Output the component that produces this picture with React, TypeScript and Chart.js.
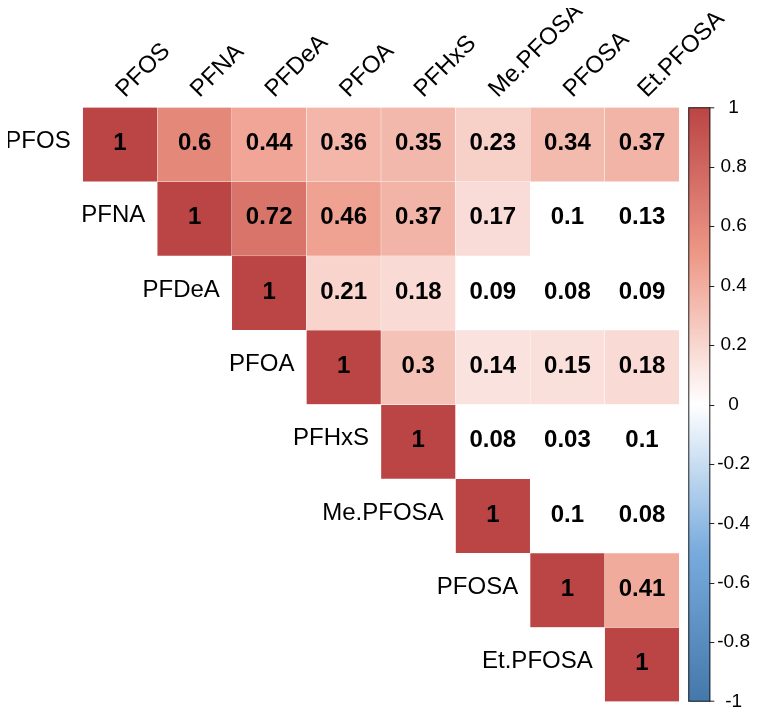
import React, { useEffect, useRef } from "react";
import { Chart, registerables } from "chart.js";

Chart.register(...registerables);

const variables = ["PFOS", "PFNA", "PFDeA", "PFOA", "PFHxS", "Me.PFOSA", "PFOSA", "Et.PFOSA"];

const rowPFOS = [1, 0.6, 0.44, 0.36, 0.35, 0.23, 0.34, 0.37];
const rowPFNA = [null, 1, 0.72, 0.46, 0.37, 0.17, 0.1, 0.13];
const rowPFDeA = [null, null, 1, 0.21, 0.18, 0.09, 0.08, 0.09];
const rowPFOA = [null, null, null, 1, 0.3, 0.14, 0.15, 0.18];
const rowPFHxS = [null, null, null, null, 1, 0.08, 0.03, 0.1];
const rowMePFOSA = [null, null, null, null, null, 1, 0.1, 0.08];
const rowPFOSA = [null, null, null, null, null, null, 1, 0.41];
const rowEtPFOSA = [null, null, null, null, null, null, null, 1];

const matrix: (number | null)[][] = [rowPFOS, rowPFNA, rowPFDeA, rowPFOA, rowPFHxS, rowMePFOSA, rowPFOSA, rowEtPFOSA];

// cells left blank (not significant): [row, col]
const insignificant: [number, number][] = [
  [1, 6], [1, 7],
  [2, 5], [2, 6], [2, 7],
  [4, 5], [4, 6], [4, 7],
  [5, 6], [5, 7],
];

const colorbarTicks = [1, 0.8, 0.6, 0.4, 0.2, 0, -0.2, -0.4, -0.6, -0.8, -1];
const colorbarLabels = ["1", "0.8", "0.6", "0.4", "0.2", "0", "-0.2", "-0.4", "-0.6", "-0.8", "-1"];

// palette from -1 to 1
const palette = ["#4477AA", "#77AADD", "#FFFFFF", "#EE9988", "#BB4444"];

const FONT = "'Liberation Sans', Arial, sans-serif";

function hexToRgb(h: string) {
  const n = parseInt(h.slice(1), 16);
  return [(n >> 16) & 255, (n >> 8) & 255, n & 255];
}

function colorFor(v: number) {
  const t = ((v + 1) / 2) * (palette.length - 1);
  const i = Math.min(palette.length - 2, Math.floor(t));
  const f = t - i;
  const a = hexToRgb(palette[i]);
  const b = hexToRgb(palette[i + 1]);
  const c = a.map((x, k) => Math.round(x + (b[k] - x) * f));
  return `rgb(${c[0]},${c[1]},${c[2]})`;
}

function isInsig(r: number, c: number) {
  return insignificant.some(([a, b]) => a === r && b === c);
}

const cellTextPlugin = {
  id: "cellText",
  afterDatasetsDraw(chart: any) {
    const ctx = chart.ctx;
    const xs = chart.scales.x;
    const ys = chart.scales.y;
    const area = chart.chartArea;
    ctx.save();
    // cell values
    ctx.fillStyle = "#000";
    ctx.font = `bold 24px ${FONT}`;
    ctx.textAlign = "center";
    ctx.textBaseline = "middle";
    matrix.forEach((row, r) => {
      const meta = chart.getDatasetMeta(r);
      row.forEach((v, c) => {
        if (v === null) return;
        const el = meta.data[c];
        const cy = (el.y + el.base) / 2;
        ctx.fillText(String(v), el.x, cy - 1);
      });
    });
    // row labels next to diagonal
    ctx.font = `24px ${FONT}`;
    ctx.textAlign = "right";
    const half = (xs.getPixelForValue(1) - xs.getPixelForValue(0)) / 2;
    variables.forEach((name, i) => {
      const x = xs.getPixelForValue(i) - half - 12;
      const y = (ys.getPixelForValue(i) + ys.getPixelForValue(i + 1)) / 2;
      ctx.fillText(name, x, y - 3);
    });
    // column labels rotated
    ctx.textAlign = "left";
    ctx.textBaseline = "alphabetic";
    variables.forEach((name, j) => {
      const x = xs.getPixelForValue(j) + 5;
      const y = area.top - 9;
      ctx.save();
      ctx.translate(x, y);
      ctx.rotate(-Math.PI / 4);
      ctx.fillText(name, 0, 0);
      ctx.restore();
    });
    // colorbar
    const cbLeft = area.right + 9;
    const cbRight = area.right + 31;
    const top = area.top;
    const bottom = area.bottom;
    const grad = ctx.createLinearGradient(0, top, 0, bottom);
    palette.slice().reverse().forEach((col, k) => grad.addColorStop(k / (palette.length - 1), col));
    ctx.fillStyle = grad;
    ctx.fillRect(cbLeft, top, cbRight - cbLeft, bottom - top);
    ctx.strokeStyle = "#222";
    ctx.lineWidth = 1;
    ctx.strokeRect(cbLeft + 0.5, top + 0.5, cbRight - cbLeft - 1, bottom - top - 1);
    ctx.fillStyle = "#000";
    ctx.font = `19px ${FONT}`;
    ctx.textAlign = "center";
    ctx.textBaseline = "middle";
    colorbarTicks.forEach((v, k) => {
      const y = top + ((1 - v) / 2) * (bottom - top);
      const yy = Math.min(bottom - 0.5, Math.max(top + 0.5, Math.round(y) + 0.5));
      ctx.beginPath();
      ctx.moveTo(cbRight - 1, yy);
      ctx.lineTo(cbRight + 4, yy);
      ctx.stroke();
      ctx.fillText(colorbarLabels[k], area.right + 54.3, y);
    });
    ctx.restore();
  },
};

export default function App() {
  const ref = useRef<HTMLCanvasElement>(null);
  useEffect(() => {
    if (!ref.current) return;
    const datasets = matrix.map((row, r) => ({
      label: variables[r],
      data: row.map((v) => (v === null ? null : [r, r + 1])),
      backgroundColor: row.map((v, c) =>
        v === null ? "rgba(0,0,0,0)" : isInsig(r, c) ? "#FFFFFF" : colorFor(v)
      ),
      borderColor: row.map((v, c) =>
        v === null || isInsig(r, c) ? "rgba(0,0,0,0)" : "rgba(255,255,255,0.55)"
      ),
      borderWidth: { top: 0.5, bottom: 0.5, left: 0.5, right: 0.5 },
      borderSkipped: false,
      grouped: false,
      barPercentage: 1,
      categoryPercentage: 1,
    }));
    const chart = new Chart(ref.current, {
      type: "bar",
      data: { labels: variables, datasets: datasets as any },
      options: {
        responsive: false,
        animation: false,
        devicePixelRatio: 1,
        layout: { padding: { left: 74.7, right: 70.7, top: 99.3, bottom: 5.3 } },
        plugins: { legend: { display: false }, tooltip: { enabled: false } },
        scales: {
          x: { type: "category", display: false, offset: true },
          y: { type: "linear", display: false, min: 0, max: 8, reverse: true },
        },
      },
      plugins: [cellTextPlugin],
    });
    return () => chart.destroy();
  }, []);
  return (
    <div style={{ width: 742, height: 699 }}>
      <canvas ref={ref} width={742} height={699} style={{ width: 742, height: 699, display: "block" }} />
    </div>
  );
}
